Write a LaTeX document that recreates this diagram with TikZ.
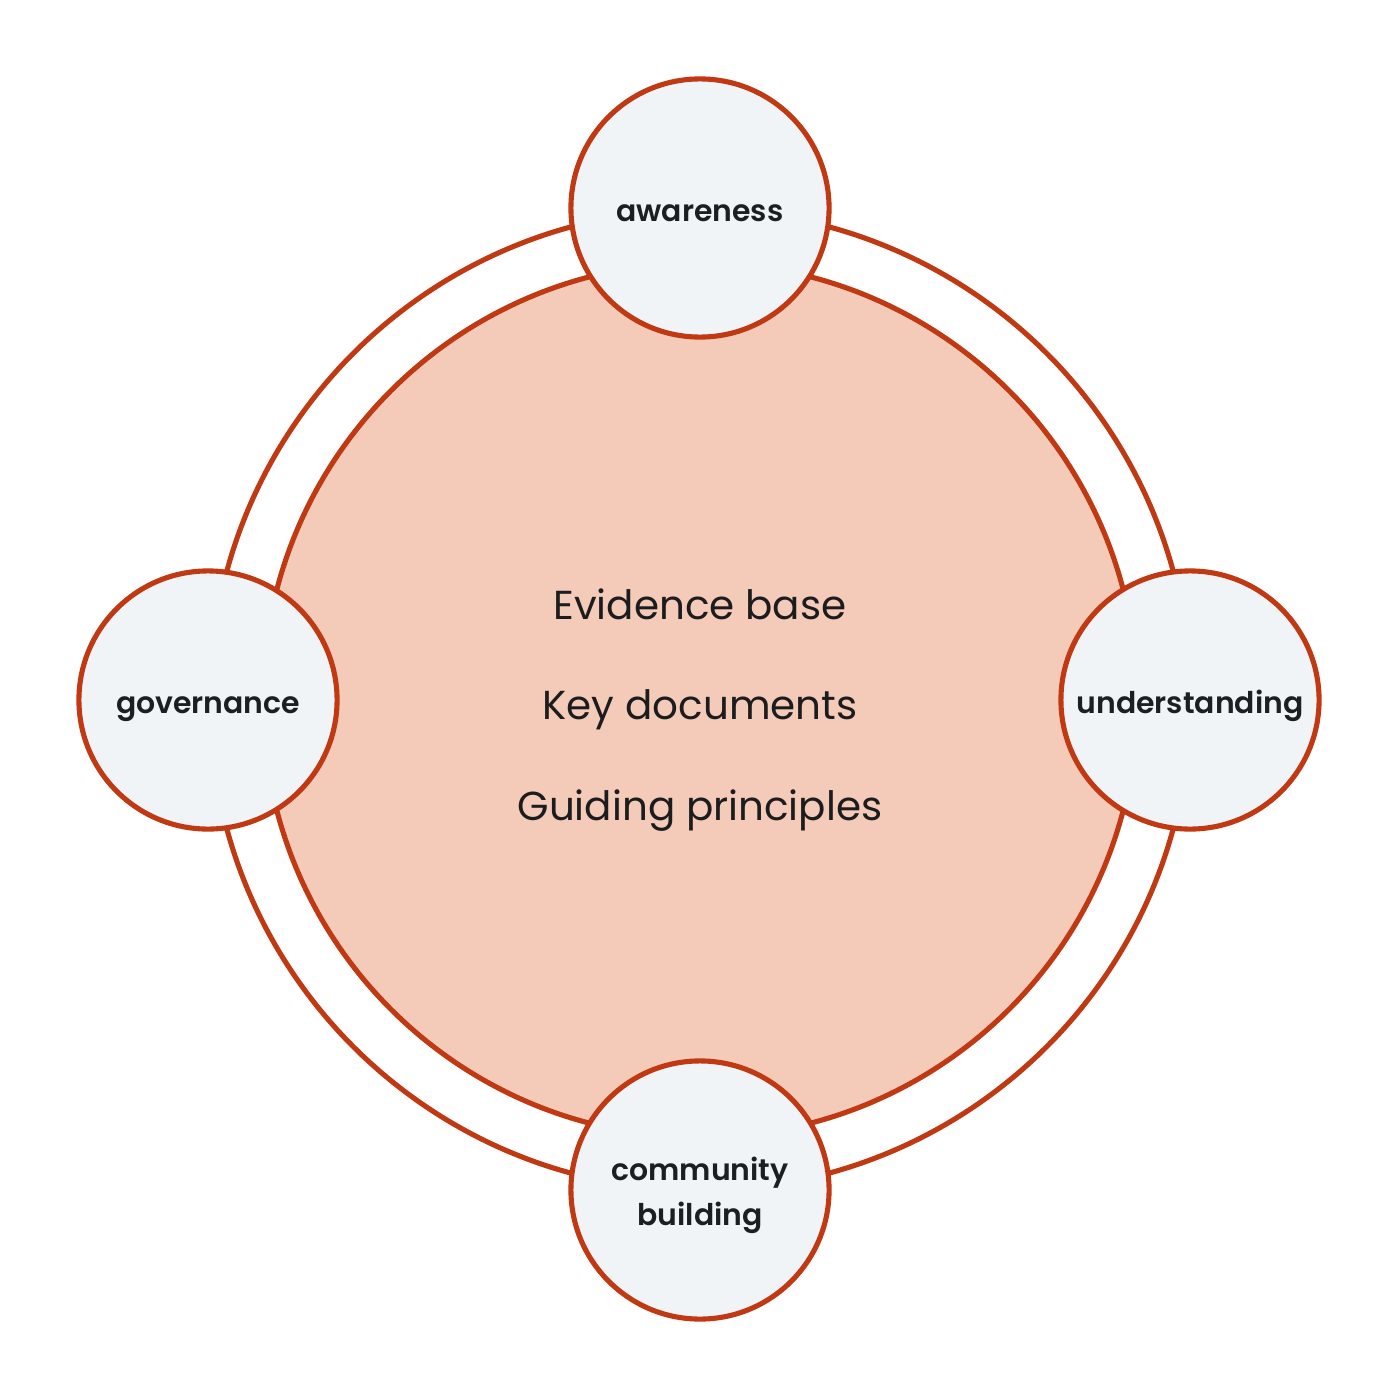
\documentclass[tikz,border=0pt]{standalone}
\usepackage{fontspec}
\setmainfont{Poppins}
\newfontfamily\labelfont{Poppins SemiBold}
\definecolor{ringred}{RGB}{192,57,18}
\definecolor{corefill}{RGB}{243,203,184}
\definecolor{smallfill}{RGB}{240,244,247}
\definecolor{inktext}{RGB}{28,28,30}
\definecolor{labeltext}{RGB}{26,31,36}
\begin{document}
\begin{tikzpicture}[x=0.01cm,y=-0.01cm,
  ring/.style={draw=ringred,line width=1.45pt},
  topic/.style={circle,draw=ringred,line width=1.45pt,fill=smallfill,minimum size=2.58cm,inner sep=0pt,align=center,text=labeltext,font=\labelfont\fontsize{8.5}{12.8}\selectfont,text height=7.6pt,text depth=0pt},
  coretext/.style={text=inktext,anchor=base,font=\fontsize{11.5}{14}\selectfont}]
\useasboundingbox (0,0) rectangle (1400,1400);
\fill[white] (0,0) rectangle (1400,1400);
\coordinate (c) at (700,700);
\draw[ring] (c) circle[radius=4.9cm];
\draw[ring,fill=corefill] (c) circle[radius=4.37cm];
\node[coretext] (ev) at (700,619) {Evidence base};
\node[coretext] (kd) at (700,719) {Key documents};
\node[coretext] (gp) at (700,820) {Guiding principles};
\node[topic] (aw) at (700,208) {awareness};
\node[topic] (un) at (1190,700) {understanding};
\node[topic,text height=20.4pt] (cb) at (700,1190) {community\\building};
\node[topic] (gv) at (208,700) {governance};
\end{tikzpicture}
\end{document}
